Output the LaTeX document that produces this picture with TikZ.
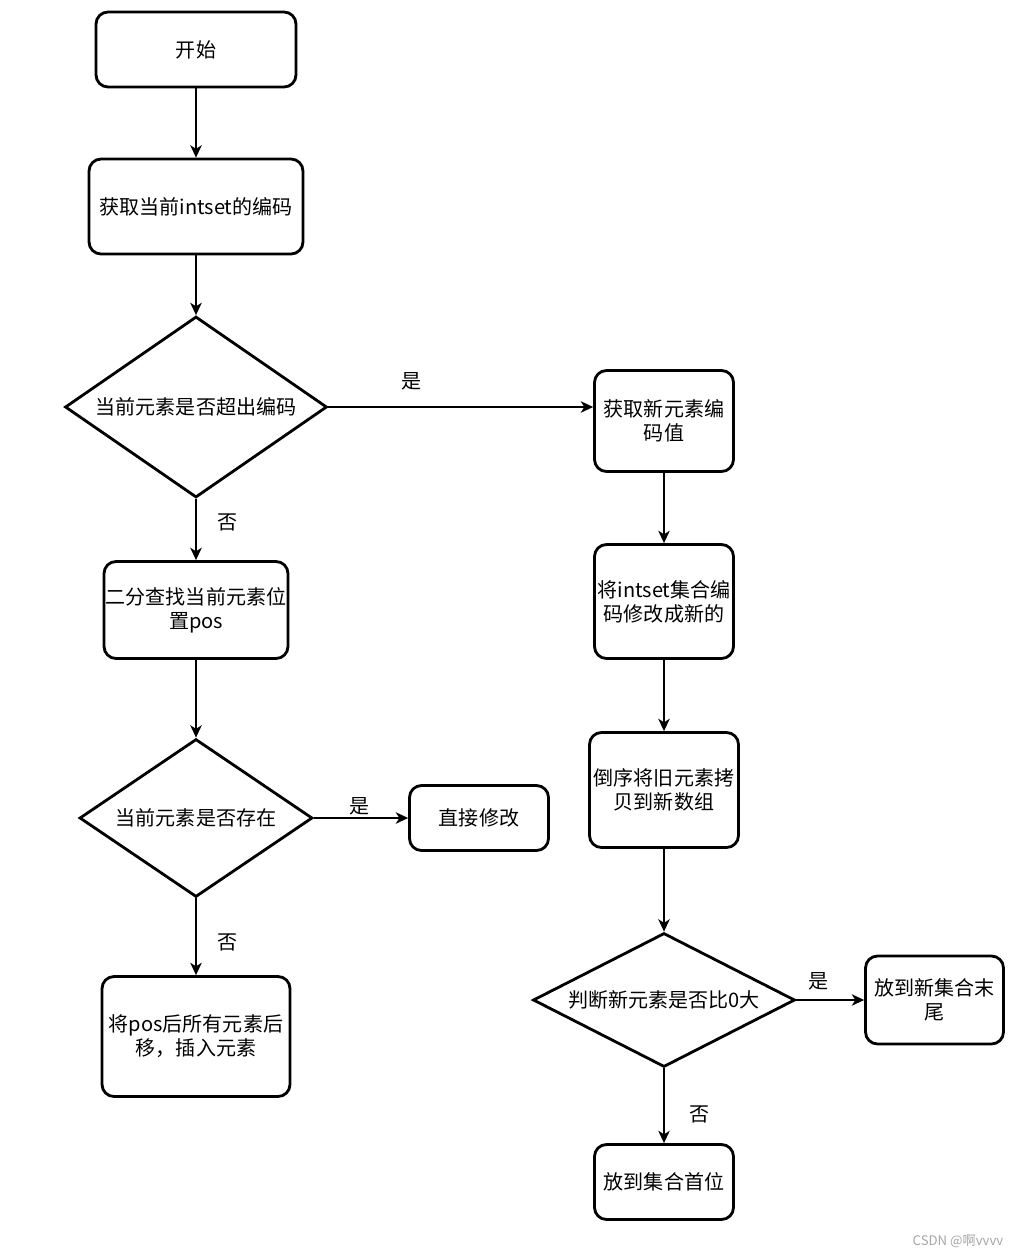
\documentclass[tikz,border=0pt]{standalone}
\usepackage{fontspec}
\setmainfont{Noto Sans CJK SC}
\usetikzlibrary{arrows.meta,%
                shapes.geometric}

\tikzset{
  box/.style={draw, line width=1.6pt, rounded corners=0.24cm, align=center,
              inner sep=1pt, font=\fontsize{11.4}{13.6}\selectfont},
  decision/.style={draw, shape=diamond, line width=1.6pt, inner sep=0pt,
              font=\fontsize{11.4}{13.6}\selectfont},
  flow/.style={line width=1.1pt, -{Stealth[length=7pt,width=6.5pt,inset=2pt]}},
  lbl/.style={font=\fontsize{11.4}{13.6}\selectfont, inner sep=0pt},
}

\begin{document}
\begin{tikzpicture}[x=0.02cm, y=-0.02cm]
\useasboundingbox (0,0) rectangle (1017,1257);

\node[box, minimum width=4.0cm, minimum height=1.5cm] (start) at (196,49.5) {开始};
\node[box, minimum width=4.28cm, minimum height=1.9cm] (getenc) at (196,206.5) {获取当前intset的编码};
\draw[flow] (start) -- (getenc);

\node[decision, aspect=1.44, minimum width=5.24cm, minimum height=3.62cm] (over) at (196,407) {当前元素是否超出编码};
\draw[flow] (getenc) -- (over);

% right column
\node[box, minimum width=2.78cm, minimum height=2.02cm] (newenc) at (664,421) {获取新元素编\\码值};
\node[box, minimum width=2.78cm, minimum height=2.28cm] (upgrade) at (664,601.5) {将intset集合编\\码修改成新的};
\node[box, minimum width=2.98cm, minimum height=2.3cm] (copy) at (664,790) {倒序将旧元素拷\\贝到新数组};
\node[decision, aspect=1.94, minimum width=5.24cm, minimum height=2.68cm] (positive) at (664,1000) {判断新元素是否比0大};
\node[box, minimum width=2.76cm, minimum height=1.76cm] (tail) at (934.5,1000) {放到新集合末\\尾};
\node[box, minimum width=2.78cm, minimum height=1.5cm] (head) at (664,1182) {放到集合首位};

\draw[flow] (over.east) -- (over.east -| newenc.west);
\node[lbl] (yes1) at (412,381) {是};
\draw[flow] (newenc) -- (upgrade);
\draw[flow] (upgrade) -- (copy);
\draw[flow] (copy) -- (positive);
\draw[flow] (positive) -- (tail);
\node[lbl] (yes3) at (819,981) {是};
\draw[flow] (positive) -- (head);
\node[lbl] (no3) at (700,1114) {否};

% left column
\node[box, minimum width=3.68cm, minimum height=1.94cm] (search) at (196,610) {二分查找当前元素位\\置pos};
\draw[flow] (over) -- (search);
\node[lbl] (no1) at (228,522) {否};

\node[decision, aspect=1.47, minimum width=4.66cm, minimum height=3.16cm] (exists) at (196,818) {当前元素是否存在};
\draw[flow] (search) -- (exists);

\node[box, minimum width=2.78cm, minimum height=1.3cm] (modify) at (479,818) {直接修改};
\draw[flow] (exists) -- (modify);
\node[lbl] (yes2) at (360,806) {是};

\node[box, minimum width=3.76cm, minimum height=2.4cm] (insert) at (196,1036.5) {将pos后所有元素后\\移，插入元素};
\draw[flow] (exists) -- (insert);
\node[lbl] (no2) at (228,942) {否};

\node[font=\fontsize{7.5}{9}\selectfont, text=black!35, inner sep=0pt] (mark) at (958,1241) {CSDN @啊vvvv};

\end{tikzpicture}
\end{document}
